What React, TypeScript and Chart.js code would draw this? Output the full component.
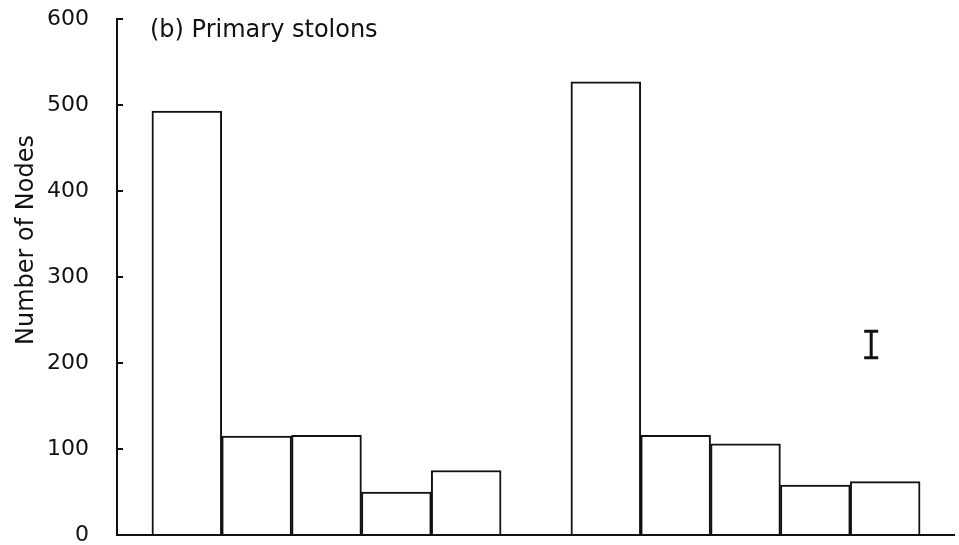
import React, { useEffect, useRef } from "react";
import { Chart, registerables } from "chart.js";

Chart.register(...registerables);

// ---- data ----
const group1Slots = [1, 2, 3, 4, 5];
const group1Values = [493, 115, 116, 50, 75];
const group2Slots = [7, 8, 9, 10, 11];
const group2Values = [527, 116, 106, 58, 62];
const yTickValues = [0, 100, 200, 300, 400, 500, 600];
const errorBarX = 10.8;
const errorBarLow = 206;
const errorBarHigh = 237;
const titleText = "(b) Primary stolons";
const yAxisTitle = "Number of Nodes";

const FONT = "'DejaVu Sans', sans-serif";

const overlayPlugin = {
  id: "overlay",
  afterDraw(chart: any) {
    const { ctx, scales } = chart;
    const x = scales.x;
    const y = scales.y;
    ctx.save();
    ctx.strokeStyle = "#111";
    ctx.fillStyle = "#111";
    // x axis line
    ctx.lineWidth = 2;
    const by = y.getPixelForValue(0);
    ctx.beginPath();
    ctx.moveTo(x.left, by);
    ctx.lineTo(x.right, by);
    ctx.stroke();
    // inward y ticks
    yTickValues.forEach((v) => {
      const py = Math.round(y.getPixelForValue(v));
      ctx.beginPath();
      ctx.moveTo(x.left, py);
      ctx.lineTo(x.left + 6, py);
      ctx.stroke();
    });
    // error bar
    const ex = x.getPixelForValue(errorBarX);
    const ey1 = y.getPixelForValue(errorBarHigh);
    const ey2 = y.getPixelForValue(errorBarLow);
    ctx.lineWidth = 3;
    ctx.beginPath();
    ctx.moveTo(ex, ey1);
    ctx.lineTo(ex, ey2);
    ctx.moveTo(ex - 7, ey1);
    ctx.lineTo(ex + 7, ey1);
    ctx.moveTo(ex - 7, ey2);
    ctx.lineTo(ex + 7, ey2);
    ctx.stroke();
    // title
    ctx.font = `24px ${FONT}`;
    ctx.textAlign = "left";
    ctx.textBaseline = "alphabetic";
    ctx.fillText(titleText, 150, 37);
    // y axis title
    ctx.translate(33, 240);
    ctx.rotate(-Math.PI / 2);
    ctx.textAlign = "center";
    ctx.fillText(yAxisTitle, 0, 0);
    ctx.restore();
  },
};

export default function App() {
  const ref = useRef<HTMLCanvasElement | null>(null);
  useEffect(() => {
    if (!ref.current) return;
    const data1 = group1Slots.map((s, i) => ({ x: s, y: group1Values[i] }));
    const data2 = group2Slots.map((s, i) => ({ x: s, y: group2Values[i] }));
    const chart = new Chart(ref.current, {
      type: "bar",
      data: {
        datasets: [
          {
            data: [...data1, ...data2] as any,
            backgroundColor: "#ffffff",
            borderColor: "#111111",
            borderWidth: 2,
            barPercentage: 1,
            categoryPercentage: 1,
            grouped: false,
          },
        ],
      },
      options: {
        responsive: false,
        animation: false,
        devicePixelRatio: 1,
        layout: { padding: { top: 19, right: 4, bottom: 10, left: 0 } },
        plugins: { legend: { display: false }, tooltip: { enabled: false } },
        scales: {
          x: {
            type: "linear",
            min: 0,
            max: 12,
            offset: false,
            grid: { display: false },
            ticks: { display: false },
            border: { display: false },
            afterFit: (s: any) => {
              s.height = 0;
              s.paddingLeft = 0;
              s.paddingRight = 0;
            },
          },
          y: {
            min: 0,
            max: 600,
            afterFit: (s: any) => {
              s.width = 117;
              s.paddingTop = 0;
              s.paddingBottom = 0;
            },
            afterBuildTicks: (s: any) => {
              s.ticks = yTickValues.map((v) => ({ value: v }));
            },
            grid: { display: false },
            border: { display: true, color: "#111", width: 2 },
            ticks: {
              color: "#111",
              padding: 20,
              font: { family: FONT, size: 22 },
            },
          },
        },
      },
      plugins: [overlayPlugin],
    });
    return () => chart.destroy();
  }, []);
  return (
    <div style={{ position: "fixed", left: 0, top: 0, width: 959, height: 545, background: "#fff" }}>
      <canvas ref={ref} width={959} height={545} />
    </div>
  );
}
